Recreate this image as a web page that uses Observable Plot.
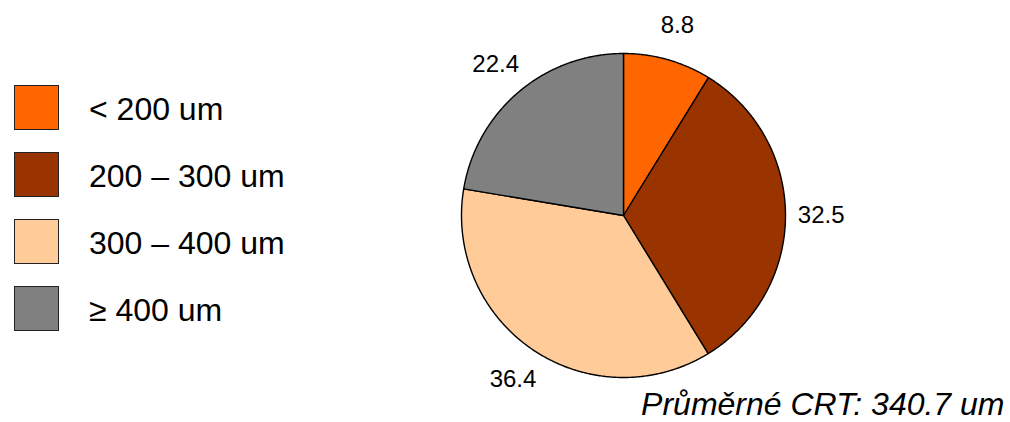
<!DOCTYPE html>
<html>
<head>
<meta charset="utf-8">
<script src="https://cdn.jsdelivr.net/npm/d3@7"></script>
<script src="https://cdn.jsdelivr.net/npm/@observablehq/plot@0.6"></script>
<style>
  html, body { margin: 0; padding: 0; background: #fff; }
  #chart { position: relative; width: 1010px; height: 422px; font-family: "Liberation Sans", Arial, sans-serif; }
  #chart svg { position: absolute; left: 0; top: 0; }
  .legend { position: absolute; left: 14px; top: 84px; }
  .legend .row { display: flex; align-items: center; height: 46px; margin-bottom: 21px; }
  .legend .swatch { width: 43px; height: 43px; border: 1.5px solid #222; box-sizing: content-box; }
  .legend .label { margin-left: 30px; font-size: 32px; color: #000; white-space: nowrap; position: relative; top: 2px; }
</style>
</head>
<body>
<div id="chart"></div>
<script>
// CRT thickness classes and their share of eyes (%)
const categories = ["< 200 um", "200 – 300 um", "300 – 400 um", "≥ 400 um"];
const shares = [8.8, 32.5, 36.4, 22.4];
const colors = ["#FF6600", "#993300", "#FFCC99", "#808080"];
const caption = "Průměrné CRT: 340.7 um";

// Pie angles: start at 12 o'clock, run clockwise, keep given order
const slices = d3.pie().sort(null).value(d => d.value)(
  categories.map((key, i) => ({key, value: shares[i]}))
);

// Each slice as a closed outline: center → arc → center (unit radius)
const outline = slices.flatMap(s => {
  const n = Math.max(2, Math.ceil((s.endAngle - s.startAngle) / (Math.PI / 360)));
  const pts = [{key: s.data.key, x: 0, y: 0}];
  for (let i = 0; i <= n; ++i) {
    const a = s.startAngle + (s.endAngle - s.startAngle) * i / n;
    pts.push({key: s.data.key, x: Math.sin(a), y: Math.cos(a)});
  }
  pts.push({key: s.data.key, x: 0, y: 0});
  return pts;
});

const labelRadius = 1.22;
const mid = s => (s.startAngle + s.endAngle) / 2;

const chart = Plot.plot({
  width: 1010,
  height: 422,
  margin: 0,
  style: {fontFamily: "'Liberation Sans', Arial, sans-serif", background: "transparent", overflow: "visible"},
  x: {domain: [-1, 1], range: [461, 785], axis: null},
  y: {domain: [-1, 1], range: [377, 53], axis: null},
  color: {domain: categories, range: colors},
  marks: [
    Plot.line(outline, {
      x: "x", y: "y", z: "key", fill: "key",
      stroke: "#000", strokeWidth: 1.4, strokeLinejoin: "round", curve: "linear"
    }),
    Plot.text(slices, {
      x: s => labelRadius * Math.sin(mid(s)),
      y: s => labelRadius * Math.cos(mid(s)),
      text: s => s.data.value.toFixed(1),
      fontSize: 24, fill: "#000"
    }),
    Plot.text([caption], {
      frameAnchor: "bottom-right", textAnchor: "end", lineAnchor: "bottom",
      dx: -6, dy: -8, fontSize: 32, fontStyle: "italic", fill: "#000"
    })
  ]
});

const root = document.getElementById("chart");
root.appendChild(chart);

// Legend swatches on the left
const legend = document.createElement("div");
legend.className = "legend";
categories.forEach((c, i) => {
  const row = document.createElement("div");
  row.className = "row";
  const sw = document.createElement("div");
  sw.className = "swatch";
  sw.style.background = colors[i];
  const lb = document.createElement("div");
  lb.className = "label";
  lb.textContent = c;
  row.appendChild(sw);
  row.appendChild(lb);
  legend.appendChild(row);
});
root.appendChild(legend);
</script>
</body>
</html>
